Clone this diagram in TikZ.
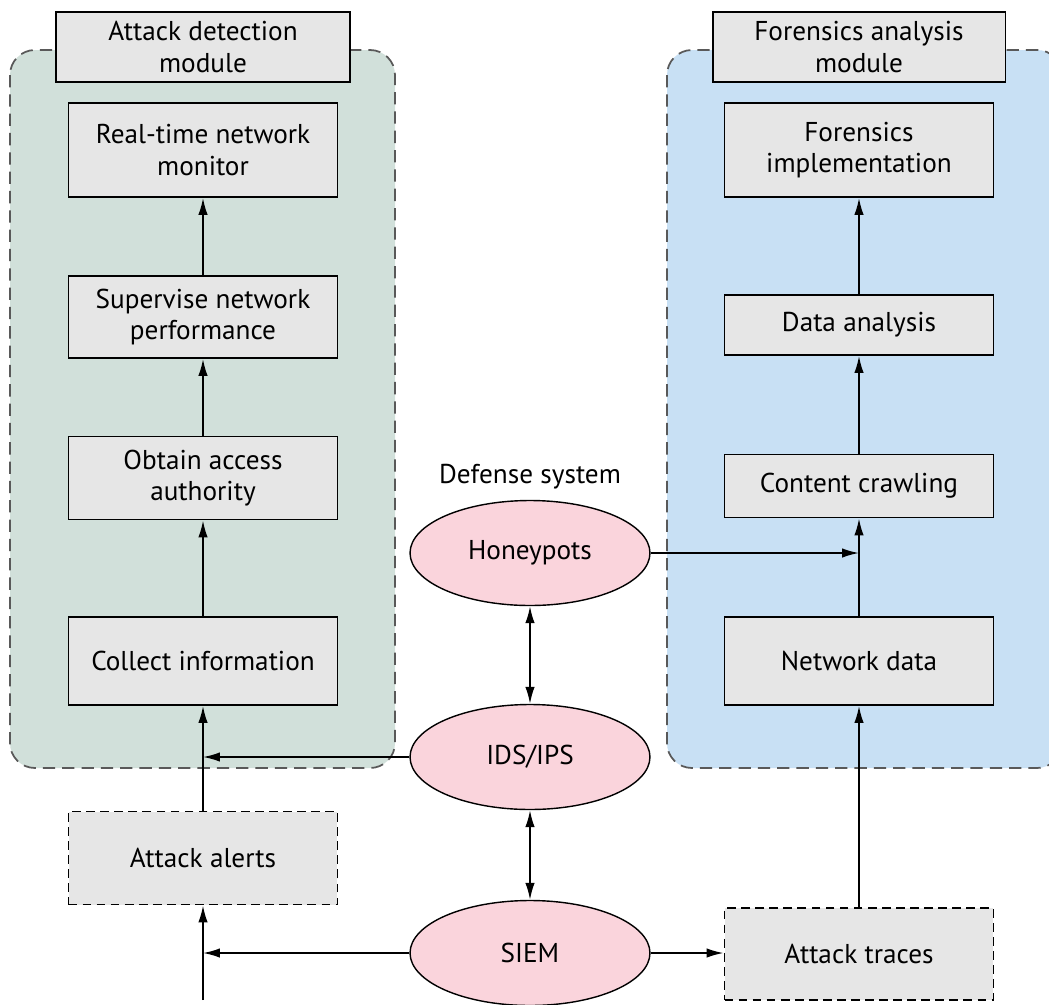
\documentclass[tikz,border=0pt]{standalone}
\usepackage{fontspec}
\setmainfont{PT Sans}
\usetikzlibrary{arrows.meta,shapes.geometric}
\definecolor{detgreen}{HTML}{D1E0DA}
\definecolor{forblue}{HTML}{C8E0F4}
\definecolor{boxgray}{HTML}{E6E6E6}
\definecolor{ellpink}{HTML}{FAD4DC}
\begin{document}
\begin{tikzpicture}[x=0.02cm,y=-0.02cm,
  stepbox/.style={draw,line width=1.1pt,fill=boxgray,minimum width=5.38cm,align=center,font=\fontsize{15.5}{18}\selectfont},
  dashbox/.style={stepbox,dash pattern=on 5pt off 3pt},
  module/.style={dash pattern=on 7pt off 4pt,line width=1pt,draw=black!65,rounded corners=0.5cm},
  sysell/.style={ellipse,draw,line width=0.8pt,fill=ellpink,minimum width=4.8cm,minimum height=2.1cm,font=\fontsize{15.5}{18}\selectfont},
  flow/.style={line width=1pt,-{Latex[length=3.4mm,width=1.9mm]}},
  twoway/.style={line width=1pt,{Latex[length=3.4mm,width=1.9mm]}-{Latex[length=3.4mm,width=1.9mm]}}]
\useasboundingbox (0,0) rectangle (1049,1005);

% module backgrounds
\draw[module,fill=detgreen] (10,50) rectangle (395,768);
\draw[module,fill=forblue] (667,50) rectangle (1062,768);

\node[stepbox,minimum width=5.88cm,minimum height=1.4cm] (dettitle) at (203,47) {Attack detection\\module};
\node[stepbox,minimum width=5.86cm,minimum height=1.4cm] (fortitle) at (859,47) {Forensics analysis\\module};

% attack detection
\node[stepbox,minimum height=1.88cm] (monitor) at (203,150) {Real-time network\\monitor};
\node[stepbox,minimum height=1.64cm] (supervise) at (203,317) {Supervise network\\performance};
\node[stepbox,minimum height=1.66cm] (obtain) at (203,478) {Obtain access\\authority};
\node[stepbox,minimum height=1.76cm] (collect) at (203,661) {Collect information};
\node[dashbox,minimum height=1.86cm] (alerts) at (203,858) {Attack alerts};

% forensics
\node[stepbox,minimum height=1.88cm] (implement) at (859,150) {Forensics\\implementation};
\node[stepbox,minimum height=1.2cm] (analysis) at (859,325) {Data analysis};
\node[stepbox,minimum height=1.26cm] (crawl) at (859,486) {Content crawling};
\node[stepbox,minimum height=1.76cm] (netdata) at (859,661) {Network data};
\node[dashbox,minimum height=1.84cm] (traces) at (859,954) {Attack traces};

% defense system
\node[font=\fontsize{15.5}{18}\selectfont] (deflabel) at (530,477) {Defense system};
\node[sysell] (honey) at (530,553) {Honeypots};
\node[sysell] (ids) at (530,757) {IDS/IPS};
\node[sysell] (siem) at (530,953) {SIEM};

\coordinate (bottomin) at (203,1000);

\draw[flow] (supervise) -- (monitor);
\draw[flow] (obtain) -- (supervise);
\draw[flow] (collect) -- (obtain);
\draw[flow] (alerts) -- (collect);
\draw[flow] (bottomin) -- (alerts);
\draw[flow] (ids.west) -- (ids.west -| collect);
\draw[flow] (siem.west) -- (siem.west -| alerts);

\draw[flow] (analysis) -- (implement);
\draw[flow] (crawl) -- (analysis);
\draw[flow] (netdata) -- (crawl);
\draw[flow] (traces) -- (netdata);
\draw[flow] (honey.east) -- (honey.east -| crawl);
\draw[flow] (siem.east) -- (siem.east -| traces.west);

\draw[twoway] (honey) -- (ids);
\draw[twoway] (ids) -- (siem);
\end{tikzpicture}
\end{document}
